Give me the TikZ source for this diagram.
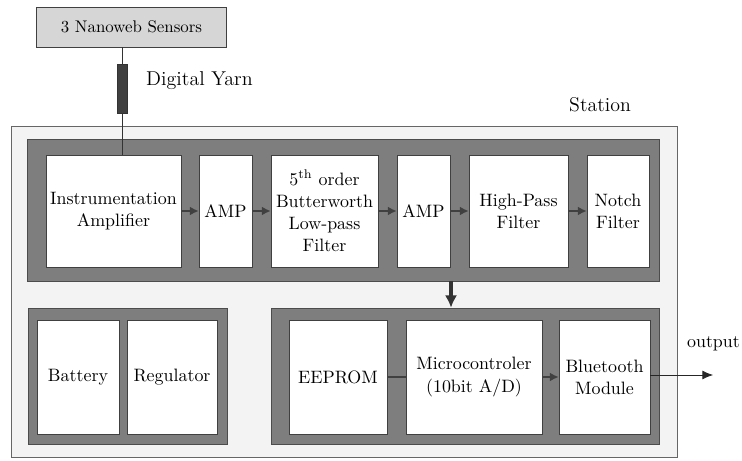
\documentclass[tikz,border=0pt]{standalone}
\usepackage{tikz}
\usetikzlibrary{arrows.meta,positioning,calc}
\definecolor{panelGray}{HTML}{7E7E7E}
\definecolor{stationGray}{HTML}{F3F3F3}
\definecolor{sensorGray}{HTML}{D6D6D6}

\begin{document}
\begin{tikzpicture}[font=\fontsize{10.2}{12.6}\selectfont,
  blk/.style={draw=black!75, fill=white, align=center, inner sep=1pt},
  pnl/.style={draw=black!70, fill=panelGray},
  arr/.style={-{Latex[length=5pt,width=5pt]}, thick, black!75}]
\useasboundingbox (0,0) rectangle (14.84,-9.22);
% station and sensor
\node[draw=black!60, fill=stationGray, minimum width=13.32cm, minimum height=6.62cm] (station) at (6.88,-5.83) {};
\node[anchor=base, font=\fontsize{11.3}{13}\selectfont] (stationlbl) at (12.0,-2.24) {Station};
\node[draw=black!75, fill=sensorGray, minimum width=3.8cm, minimum height=0.8cm, font=\fontsize{9.6}{11}\selectfont] (sensors) at (2.63,-0.54) {3 Nanoweb Sensors};
% panels
\node[pnl, minimum width=12.64cm, minimum height=2.84cm] (sigpanel) at (6.86,-4.2) {};
\node[pnl, minimum width=3.98cm, minimum height=2.72cm] (powpanel) at (2.55,-7.52) {};
\node[pnl, minimum width=7.76cm, minimum height=2.72cm] (digpanel) at (9.3,-7.52) {};
% signal chain
\node[blk, minimum width=2.7cm, minimum height=2.24cm] (instamp) at (2.27,-4.22) {Instrumentation\\Amplifier};
\node[blk, minimum width=1.06cm, minimum height=2.24cm] (amp1) at (4.51,-4.22) {AMP};
\node[blk, minimum width=2.14cm, minimum height=2.24cm] (lowpass) at (6.49,-4.22) {5\textsuperscript{th} order\\Butterworth\\Low-pass\\Filter};
\node[blk, minimum width=1.06cm, minimum height=2.24cm] (amp2) at (8.47,-4.22) {AMP};
\node[blk, minimum width=1.98cm, minimum height=2.24cm] (highpass) at (10.37,-4.22) {High-Pass\\Filter};
\node[blk, minimum width=1.24cm, minimum height=2.24cm] (notch) at (12.36,-4.22) {Notch\\Filter};
% power and digital
\node[blk, minimum width=1.64cm, minimum height=2.28cm] (battery) at (1.56,-7.54) {Battery};
\node[blk, minimum width=1.8cm, minimum height=2.28cm] (regulator) at (3.44,-7.54) {Regulator};
\node[blk, minimum width=1.96cm, minimum height=2.28cm] (eeprom) at (6.76,-7.54) {EEPROM};
\node[blk, minimum width=2.72cm, minimum height=2.28cm] (mcu) at (9.48,-7.54) {Microcontroler\\(10bit A/D)};
\node[blk, minimum width=1.82cm, minimum height=2.28cm] (bluetooth) at (12.09,-7.54) {Bluetooth\\Module};
% digital yarn
\node[draw=black!80, fill=black!75, minimum width=0.2cm, minimum height=0.98cm, inner sep=0pt] (yarn) at (2.44,-1.77) {};
\node[anchor=west, font=\fontsize{11.4}{13}\selectfont] (yarnlbl) at (2.8,-1.62) {Digital Yarn};
\draw[black!80] (yarn |- sensors.south) -- (yarn.north);
\draw[black!80] (yarn.south) -- (yarn |- instamp.north);
% connectors
\draw[arr] (instamp) -- (amp1);
\draw[arr] (amp1) -- (lowpass);
\draw[arr] (lowpass) -- (amp2);
\draw[arr] (amp2) -- (highpass);
\draw[arr] (highpass) -- (notch);
\coordinate (dn) at (9.02,-6);
\draw[-{Latex[length=7pt,width=7pt]}, line width=2.2pt, black!80] (dn |- sigpanel.south) -- (dn |- digpanel.north);
\draw[thick, black!75] (eeprom) -- (mcu);
\draw[arr] (mcu) -- (bluetooth);
\coordinate (out) at (14.26,-7.5);
\draw[-{Latex[length=6pt,width=5pt]}, black!85] (bluetooth.east |- out) -- (out);
\node[anchor=east, inner sep=1pt] (outlbl) at (14.84,-6.88) {output};
\end{tikzpicture}
\end{document}
